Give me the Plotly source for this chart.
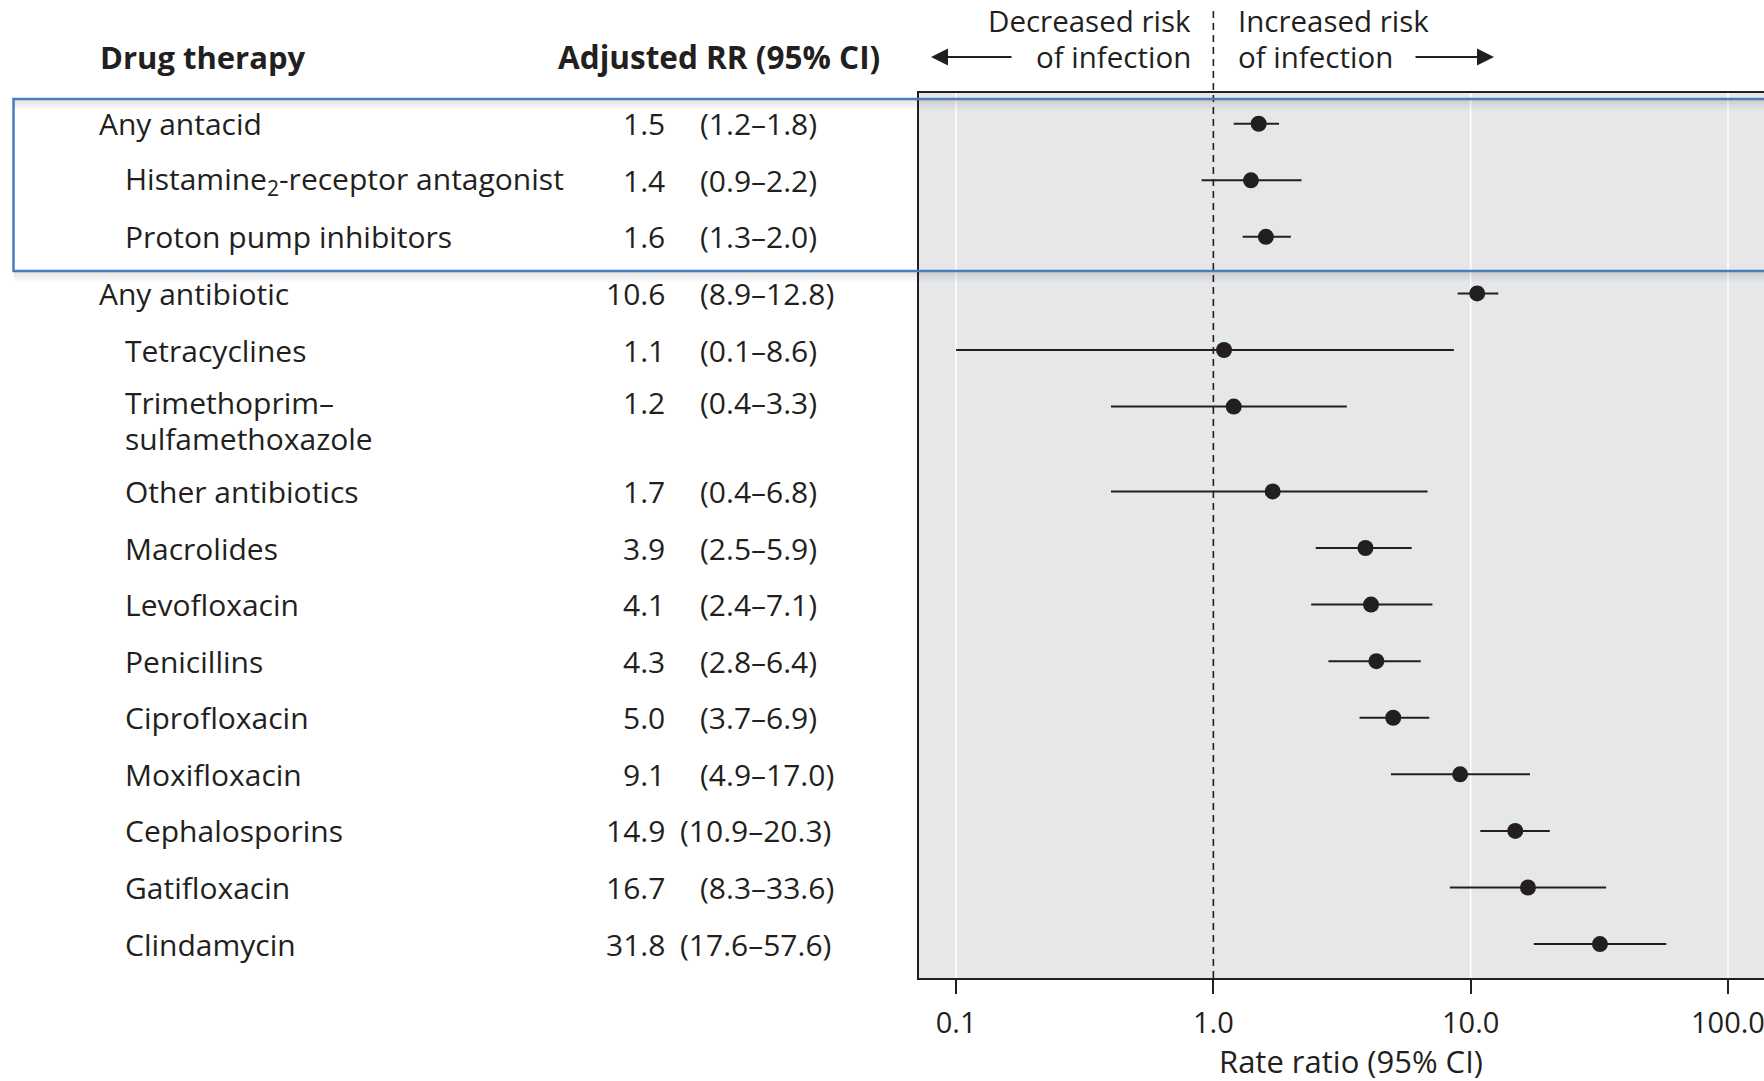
import plotly.graph_objects as go

# ---------------- data ----------------
drugs = [
    "Any antacid",
    "Histamine<sub>2</sub>-receptor antagonist",
    "Proton pump inhibitors",
    "Any antibiotic",
    "Tetracyclines",
    "Trimethoprim–<br>sulfamethoxazole",
    "Other antibiotics",
    "Macrolides",
    "Levofloxacin",
    "Penicillins",
    "Ciprofloxacin",
    "Moxifloxacin",
    "Cephalosporins",
    "Gatifloxacin",
    "Clindamycin",
]
level = [0, 1, 1, 0, 1, 1, 1, 1, 1, 1, 1, 1, 1, 1, 1]
rr = [1.5, 1.4, 1.6, 10.6, 1.1, 1.2, 1.7, 3.9, 4.1, 4.3, 5.0, 9.1, 14.9, 16.7, 31.8]
ci_lo = [1.2, 0.9, 1.3, 8.9, 0.1, 0.4, 0.4, 2.5, 2.4, 2.8, 3.7, 4.9, 10.9, 8.3, 17.6]
ci_hi = [1.8, 2.2, 2.0, 12.8, 8.6, 3.3, 6.8, 5.9, 7.1, 6.4, 6.9, 17.0, 20.3, 33.6, 57.6]
tick_vals = [0.1, 1, 10, 100]
tick_text = ["0.1", "1.0", "10.0", "100.0"]
grid_vals = [0.1, 10, 100]
ref_value = 1

# ---------------- layout helpers ----------------
W, H = 1764, 1081
PL, PR, PT, PB = 918.5, 1764, 93, 978  # plot area in pixels
FONT = "Open Sans"
INK = "#231f20"
FS = 30
LINE_H = 36


def px_x(p):
    return p / W


def px_y(p):
    return (PB - p) / (PB - PT)


def tfont(size=FS):
    return dict(family=FONT, size=size, color=INK)


# row positions: two-line labels take 1.5 rows
pos = []
cur = 0.0
for lab in drugs:
    pos.append(cur)
    cur += 1.0 + 0.5 * lab.count("<br>")

fig = go.Figure()

fig.add_trace(go.Scatter(
    x=rr, y=pos, mode="markers",
    marker=dict(size=16, color=INK),
    error_x=dict(type="data", symmetric=False,
                 array=[h - r for h, r in zip(ci_hi, rr)],
                 arrayminus=[r - l for r, l in zip(rr, ci_lo)],
                 color=INK, thickness=2, width=0),
    showlegend=False, hoverinfo="skip", cliponaxis=False,
))

annotations = []
for lab, lv, r, lo, hi, y in zip(drugs, level, rr, ci_lo, ci_hi, pos):
    lines = lab.split("<br>")
    top_shift = 4 if len(lines) > 1 else 0
    for i, line in enumerate(lines):
        annotations.append(dict(
            text=line, xref="paper", yref="y", x=px_x(97 if lv == 0 else 123), y=y,
            xanchor="left", yanchor="middle", align="left",
            yshift=top_shift - i * LINE_H, showarrow=False, font=tfont()))
    annotations.append(dict(
        text=f"{r:.1f}", xref="paper", yref="y", x=px_x(667), y=y,
        xanchor="right", yanchor="middle", showarrow=False, yshift=top_shift,
        font=tfont()))
    annotations.append(dict(
        text=f"({lo:.1f}–{hi:.1f})", xref="paper", yref="y",
        x=px_x(678 if lo >= 10 else 698), y=y,
        xanchor="left", yanchor="middle", showarrow=False, yshift=top_shift,
        font=tfont()))

# headers
annotations += [
    dict(text="<b>Drug therapy</b>", xref="paper", yref="paper", x=px_x(98), y=px_y(57),
         xanchor="left", yanchor="middle", showarrow=False, font=tfont(31)),
    dict(text="<b>Adjusted RR (95% CI)</b>", xref="paper", yref="paper", x=px_x(882), y=px_y(57),
         xanchor="right", yanchor="middle", showarrow=False, font=tfont(31.5)),
    dict(text="Decreased risk", xref="paper", yref="paper", x=px_x(1193), y=px_y(21),
         xanchor="right", yanchor="middle", showarrow=False, font=tfont(29.5)),
    dict(text="of infection", xref="paper", yref="paper", x=px_x(1193), y=px_y(57),
         xanchor="right", yanchor="middle", showarrow=False, font=tfont(29.5)),
    dict(text="Increased risk", xref="paper", yref="paper", x=px_x(1236), y=px_y(21),
         xanchor="left", yanchor="middle", showarrow=False, font=tfont(29.5)),
    dict(text="of infection", xref="paper", yref="paper", x=px_x(1236), y=px_y(57),
         xanchor="left", yanchor="middle", showarrow=False, font=tfont(29.5)),
    dict(text="", xref="paper", yref="paper", x=px_x(931), y=px_y(57), ax=82, ay=0,
         showarrow=True, arrowhead=2, arrowsize=1.7, arrowwidth=2, arrowcolor=INK),
    dict(text="", xref="paper", yref="paper", x=px_x(1494), y=px_y(57), ax=-80, ay=0,
         showarrow=True, arrowhead=2, arrowsize=1.7, arrowwidth=2, arrowcolor=INK),
    dict(text="Rate ratio (95% CI)", xref="paper", yref="paper", x=px_x(1351), y=px_y(1061),
         xanchor="center", yanchor="middle", showarrow=False, font=tfont(31)),
]

shapes = []
for g in grid_vals:
    shapes.append(dict(type="line", xref="x", yref="paper", x0=g, x1=g, y0=0, y1=1,
                       line=dict(color="white", width=1.5), layer="below"))
shapes.append(dict(type="line", xref="x", yref="paper", x0=ref_value, x1=ref_value,
                   y0=0, y1=px_y(11), line=dict(color=INK, width=1.6, dash="7px,5px"),
                   layer="above"))
# highlight box with soft shadow
for i, op in enumerate([0.10, 0.08, 0.06, 0.04, 0.02]):
    for yl in (100, 272):
        shapes.append(dict(type="rect", xref="paper", yref="paper",
                           x0=px_x(14), x1=1.02, y0=px_y(yl + 2 * i + 2), y1=px_y(yl + 2 * i),
                           fillcolor="black", opacity=op, line=dict(width=0), layer="above"))
shapes.append(dict(type="rect", xref="paper", yref="paper",
                   x0=px_x(13.5), x1=1.02, y0=px_y(271), y1=px_y(99),
                   line=dict(color="#4a7cc0", width=2.5), fillcolor="rgba(0,0,0,0)",
                   layer="above"))

fig.update_layout(
    width=W, height=H,
    margin=dict(l=0, r=0, t=PT, b=H - PB, pad=0),
    paper_bgcolor="white", plot_bgcolor="#e6e7e8",
    font=tfont(),
    annotations=annotations, shapes=shapes,
    xaxis=dict(type="log", domain=[PL / W, 1], range=[-1.146, 2.14],
               tickvals=tick_vals, ticktext=tick_text, showgrid=False, zeroline=False,
               ticks="outside", ticklen=14, tickwidth=2, tickcolor=INK,
               showline=True, linecolor=INK, linewidth=2, mirror=True,
               tickfont=tfont(29), ticklabelstandoff=4, ticklabeloverflow="allow"),
    yaxis=dict(range=[15.1, -0.543], showgrid=False, zeroline=False, showticklabels=False,
               showline=True, linecolor=INK, linewidth=2, ticks=""),
)

fig.write_html("out.html", config={"displayModeBar": False},
               post_script="document.body.style.margin='0px';")
